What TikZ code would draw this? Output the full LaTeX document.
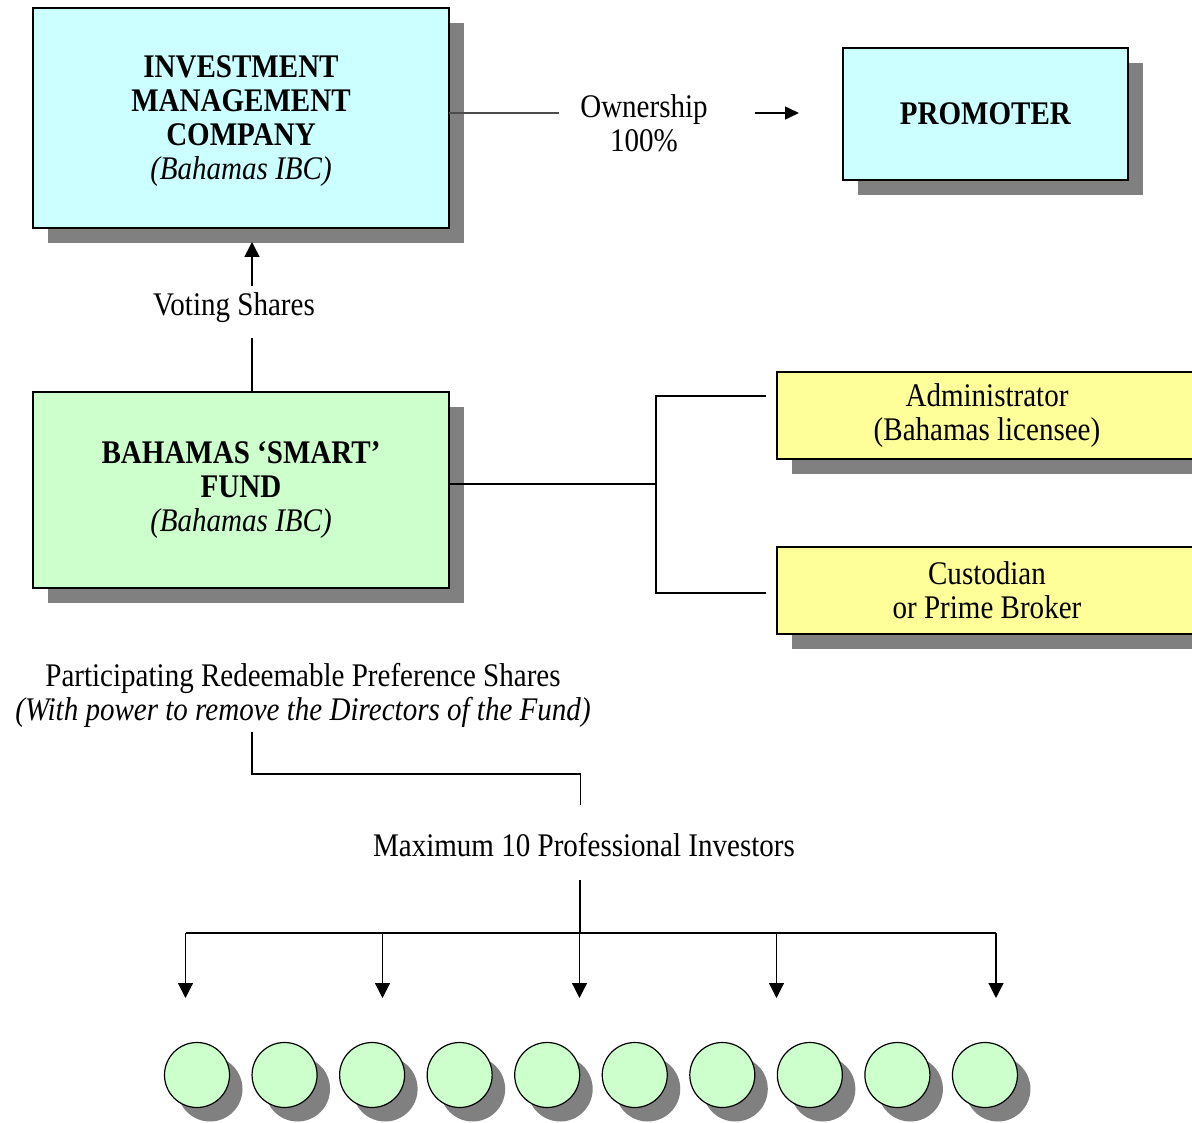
\documentclass[tikz,border=0pt]{standalone}
\usepackage{fontspec}
\setmainfont{Liberation Serif}[FakeStretch=0.88]
\usetikzlibrary{arrows.meta,shadows}
\definecolor{boxcyan}{HTML}{CCFFFF}
\definecolor{boxgreen}{HTML}{CCFFCC}
\definecolor{boxyellow}{HTML}{FFFF99}
\definecolor{shadegray}{HTML}{808080}
\begin{document}
\begin{tikzpicture}[x=1pt,y=-1pt,
  txt/.style={font=\fontsize{33}{34}\selectfont, align=center, inner sep=0pt},
  boxsh/.style={draw=black, line width=1.5pt, rectangle, txt,
     drop shadow={shadow xshift=15pt, shadow yshift=-15pt, fill=shadegray, opacity=1, draw=none}},
  ballsh/.style={draw=black, line width=1.2pt, circle, fill=boxgreen, minimum size=65pt, inner sep=0pt,
     drop shadow={shadow xshift=13pt, shadow yshift=-14pt, fill=shadegray, opacity=1, draw=none}},
  conn/.style={line width=1.5pt, black},
  arr/.style={conn, -{Triangle[length=15pt,width=15pt]}},
]
\useasboundingbox (0,0) rectangle (1192,1123);

% boxes
\node[boxsh, fill=boxcyan, minimum width=416pt, minimum height=220pt, text depth=0pt] (imc) at (241,118)
  {\textbf{INVESTMENT}\\\textbf{MANAGEMENT}\\\textbf{COMPANY}\\\textit{(Bahamas IBC)}};
\node[boxsh, fill=boxcyan, minimum width=285pt, minimum height=132pt] (prom) at (985.5,114)
  {\textbf{PROMOTER}};
\node[boxsh, fill=boxgreen, minimum width=416pt, minimum height=196pt] (fund) at (241,490)
  {\textbf{BAHAMAS ‘SMART’}\\\textbf{FUND}\\\textit{(Bahamas IBC)}};
\node[boxsh, fill=boxyellow, minimum width=420pt, minimum height=87pt] (admin) at (987,415.5)
  {Administrator\\(Bahamas licensee)};
\node[boxsh, fill=boxyellow, minimum width=420pt, minimum height=87pt] (cust) at (987,590.5)
  {Custodian\\or Prime Broker};

% labels
\node[txt] (own) at (644,123) {Ownership\\100\%};
\node[txt] (vote) at (234,308) {Voting Shares};
\node[txt] (prps) at (303,695) {Participating Redeemable Preference Shares\\\textit{(With power to remove the Directors of the Fund)}};
\node[txt] (maxi) at (584,845) {Maximum 10 Professional Investors};

% coordinates
\coordinate (o1) at (449,113);
\coordinate (o2) at (559,113);
\coordinate (o3) at (755,113);
\coordinate (o4) at (799,113);
\coordinate (v1) at (252,286);
\coordinate (v2) at (252,242);
\coordinate (v3) at (252,338);
\coordinate (f1) at (449,484);
\coordinate (b1) at (656,484);
\coordinate (b2) at (656,396);
\coordinate (b3) at (766,396);
\coordinate (b4) at (656,593);
\coordinate (b5) at (766,593);
\coordinate (p1) at (252,732);
\coordinate (p2) at (252,774);
\coordinate (p3) at (580.5,774);
\coordinate (p4) at (580.5,805);
\coordinate (m1) at (580,880);
\coordinate (m2) at (580,933);
\coordinate (h1) at (185.5,933);
\coordinate (h5) at (996,933);

% connectors
\draw[conn, line width=1.2pt, black!70] (o1) -- (o2);
\draw[conn, -{Triangle[length=14pt,width=13pt]}] (o3) -- (o4);
\draw[arr] (v1) -- (v2);
\draw[conn] (v3) -- (v3 |- fund.north);
\draw[conn] (f1) -- (b1);
\draw[conn] (b3) -- (b2) -- (b4) -- (b5);
\draw[conn] (p1) -- (p2) -- (p3) -- (p4);
\draw[conn] (m1) -- (m2);
\draw[conn, line width=2.2pt] (h1) -- (h5);
\foreach \i/\x in {1/185.5,2/382.5,3/579.5,4/776.5,5/996}{
  \coordinate (t\i) at (\x,933);
  \coordinate (d\i) at (\x,998);
  \draw[arr, line width=1.2pt] (t\i) -- (d\i);
}

% investors
\foreach \i in {0,...,9}{
  \node[ballsh] (inv\i) at (197+87.55*\i,1075) {};
}
\end{tikzpicture}
\end{document}
